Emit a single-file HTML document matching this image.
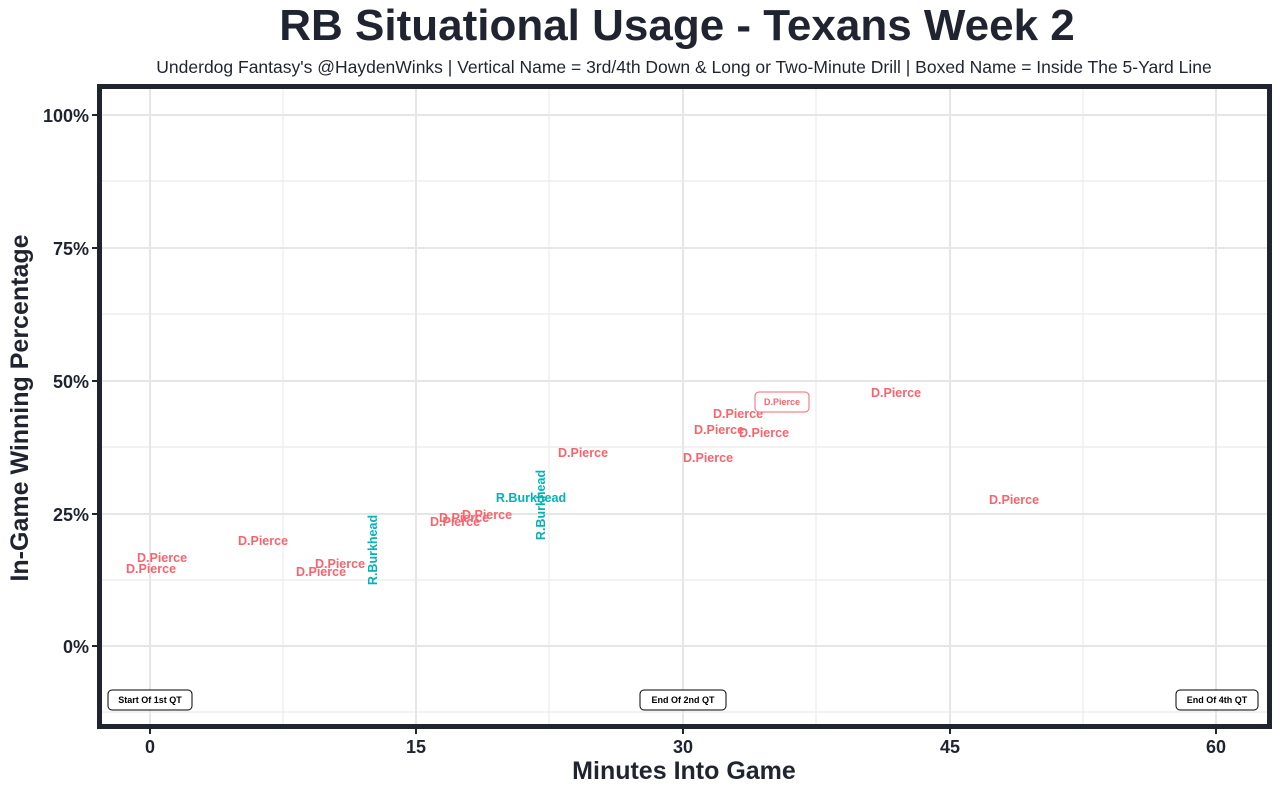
<!DOCTYPE html>
<html><head><meta charset="utf-8"><style>
body{margin:0;background:#fff;}
svg{display:block;font-family:"Liberation Sans",Arial,sans-serif;}
</style></head><body>
<svg width="1280" height="794" viewBox="0 0 1280 794" xmlns="http://www.w3.org/2000/svg">
<rect width="1280" height="794" fill="#fff"/>
<text x="677" y="40" text-anchor="middle" font-size="44" font-weight="bold" fill="#1f2430">RB Situational Usage - Texans Week 2</text>
<text x="684" y="73" text-anchor="middle" font-size="17.5" fill="#1f2430">Underdog Fantasy's @HaydenWinks | Vertical Name = 3rd/4th Down &amp; Long or Two-Minute Drill | Boxed Name = Inside The 5-Yard Line</text>
<g stroke="#ebebeb" stroke-width="1.2">
<line x1="283" y1="87" x2="283" y2="727"/><line x1="549" y1="87" x2="549" y2="727"/><line x1="816" y1="87" x2="816" y2="727"/><line x1="1083" y1="87" x2="1083" y2="727"/>
<line x1="100" y1="181" x2="1270" y2="181"/><line x1="100" y1="314" x2="1270" y2="314"/><line x1="100" y1="447" x2="1270" y2="447"/><line x1="100" y1="580" x2="1270" y2="580"/><line x1="100" y1="712" x2="1270" y2="712"/>
</g>
<g stroke="#e6e6e6" stroke-width="2">
<line x1="150" y1="87" x2="150" y2="727"/><line x1="416" y1="87" x2="416" y2="727"/><line x1="683" y1="87" x2="683" y2="727"/><line x1="950" y1="87" x2="950" y2="727"/><line x1="1216" y1="87" x2="1216" y2="727"/>
<line x1="100" y1="115" x2="1270" y2="115"/><line x1="100" y1="248" x2="1270" y2="248"/><line x1="100" y1="381" x2="1270" y2="381"/><line x1="100" y1="514" x2="1270" y2="514"/><line x1="100" y1="646" x2="1270" y2="646"/>
</g>
<rect x="99.5" y="86.5" width="1170" height="640" fill="none" stroke="#1f2430" stroke-width="5"/>
<g stroke="#1f2430" stroke-width="2">
<line x1="150" y1="729" x2="150" y2="734"/><line x1="416" y1="729" x2="416" y2="734"/><line x1="683" y1="729" x2="683" y2="734"/><line x1="950" y1="729" x2="950" y2="734"/><line x1="1216" y1="729" x2="1216" y2="734"/>
<line x1="92" y1="115" x2="97" y2="115"/><line x1="92" y1="248" x2="97" y2="248"/><line x1="92" y1="381" x2="97" y2="381"/><line x1="92" y1="514" x2="97" y2="514"/><line x1="92" y1="646" x2="97" y2="646"/>
</g>
<g font-size="18" font-weight="bold" fill="#1f2430" text-anchor="middle">
<text x="150" y="753">0</text><text x="416" y="753">15</text><text x="683" y="753">30</text><text x="950" y="753">45</text><text x="1216" y="753">60</text>
</g>
<g font-size="18" font-weight="bold" fill="#1f2430" text-anchor="end">
<text x="89" y="122">100%</text><text x="89" y="255">75%</text><text x="89" y="388">50%</text><text x="89" y="521">25%</text><text x="89" y="653">0%</text>
</g>
<text x="684" y="779" text-anchor="middle" font-size="25" font-weight="bold" fill="#1f2430">Minutes Into Game</text>
<text transform="translate(28,408) rotate(-90)" text-anchor="middle" font-size="25" font-weight="bold" fill="#1f2430">In-Game Winning Percentage</text>
<g font-size="12.5" font-weight="bold" fill="#f8646d" text-anchor="middle" dominant-baseline="central">
<text x="162" y="558">D.Pierce</text><text x="151" y="569">D.Pierce</text><text x="263" y="541">D.Pierce</text>
<text x="340" y="564">D.Pierce</text><text x="321" y="572">D.Pierce</text>
<text x="455" y="522">D.Pierce</text><text x="464" y="518">D.Pierce</text><text x="487" y="515">D.Pierce</text>
<text x="583" y="453">D.Pierce</text><text x="708" y="458">D.Pierce</text><text x="738" y="414">D.Pierce</text>
<text x="719" y="430">D.Pierce</text><text x="764" y="433">D.Pierce</text><text x="896" y="393">D.Pierce</text><text x="1014" y="500">D.Pierce</text>
</g>
<rect x="755" y="392" width="54" height="20" rx="4" fill="#fff" stroke="#f8646d" stroke-width="1"/>
<text x="782" y="402" font-size="9" font-weight="bold" fill="#f8646d" text-anchor="middle" dominant-baseline="central">D.Pierce</text>
<g font-size="12.5" font-weight="bold" fill="#00b4b8" text-anchor="middle" dominant-baseline="central">
<text x="531" y="498">R.Burkhead</text>
<text transform="translate(373,550) rotate(-90)">R.Burkhead</text>
<text transform="translate(541,505) rotate(-90)">R.Burkhead</text>
</g>
<g font-size="9" font-weight="bold" fill="#000" text-anchor="middle" dominant-baseline="central">
<rect x="108" y="690" width="84" height="20" rx="4" fill="#fff" stroke="#000"/><text x="150" y="700">Start Of 1st QT</text>
<rect x="640" y="690" width="86" height="20" rx="4" fill="#fff" stroke="#000"/><text x="683" y="700">End Of 2nd QT</text>
<rect x="1176" y="690" width="82" height="20" rx="4" fill="#fff" stroke="#000"/><text x="1217" y="700">End Of 4th QT</text>
</g>
</svg>
</body></html>
